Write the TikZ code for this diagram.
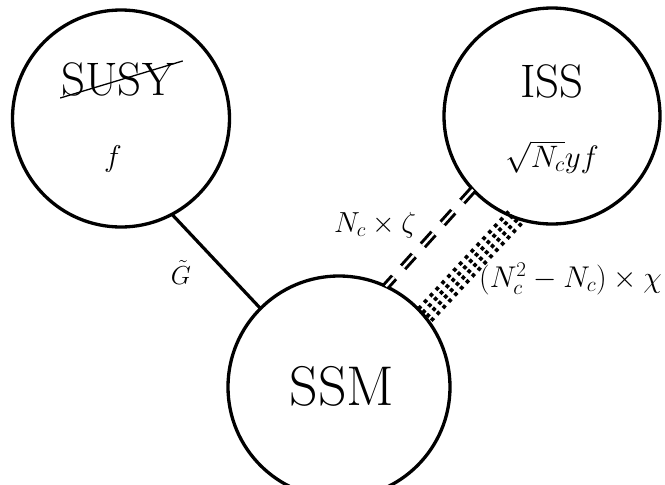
\RequirePackage{fix-cm}
\documentclass[tikz,border=0pt]{standalone}
\usepackage{amsmath}
\usetikzlibrary{calc}
\begin{document}
\begin{tikzpicture}[x=1pt,y=-1pt,
  blob/.style={draw, circle, line width=3.3pt, inner sep=0pt, outer sep=0pt},
  bigtext/.style={inner sep=0pt, anchor=base, font=\fontsize{47}{52}\selectfont},
  mathtext/.style={inner sep=0pt, font=\fontsize{29}{34}\selectfont},
  conn/.style={line width=3.2pt},
  dbldash/.style={line width=3pt, double=white, double distance=2.4pt, dash pattern=on 16pt off 13.5pt},
  dotline/.style={line width=3.7pt, dash pattern=on 3.7pt off 4.9pt}
]
\useasboundingbox (0,0) rectangle (665,485);
% circles
\node[blob, minimum size=217pt] (susy) at (121,118.5) {};
\node[blob, minimum size=216pt] (iss) at (552,116) {};
\node[blob, minimum size=222pt] (ssm) at (339,387) {};
% texts inside
\node[bigtext] (susyt) at (118,95) {SUSY};
\draw[line width=1.3pt] ($(susyt.base west)+(-1,3)$) coordinate (s1) -- ($(susyt.north east)+(8,-1)$) coordinate (s2);
\node[mathtext, anchor=base, font=\fontsize{30}{34}\selectfont] (susyf) at (113,166) {$f$};
\node[bigtext] (isst) at (552,97) {ISS};
\node[mathtext, anchor=base, font=\fontsize{31}{36}\selectfont] (issf) at (552,167) {$\sqrt{N_c}yf$};
\node[bigtext, font=\fontsize{56}{62}\selectfont] (ssmt) at (342,405) {SSM};
% connectors
\draw[conn] (susy.-62) -- (ssm.135);
\draw[dbldash] (iss.223) -- (ssm.65);
\foreach \o in {-8.7,-2.9,2.9,8.7}{
  \draw[dotline] ($(iss.250)!\o pt!90:(ssm.40)$) -- ($(ssm.40)!\o pt!-90:(iss.250)$);
}
% labels
\node[mathtext, anchor=base, font=\fontsize{26}{30}\selectfont] (gl) at (181,284) {$\tilde G$};
\node[mathtext, anchor=base west] (zl) at (334,232) {$N_c\times\zeta$};
\node[mathtext, anchor=base west, font=\fontsize{30}{34}\selectfont] (xl) at (479,287) {$(N_c^2-N_c)\times\chi$};
\end{tikzpicture}
\end{document}
